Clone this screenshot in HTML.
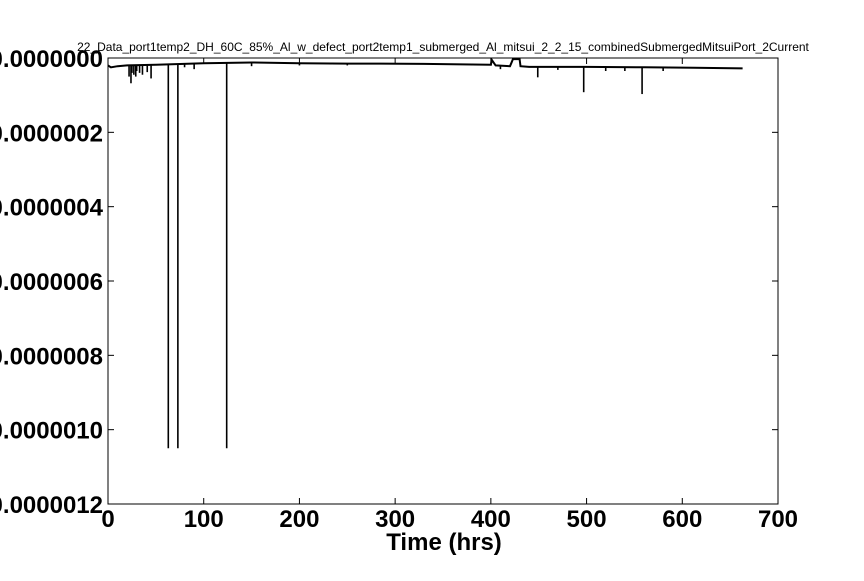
<!DOCTYPE html>
<html><head><meta charset="utf-8"><style>
body{margin:0;background:#fff;width:864px;height:576px;overflow:hidden}
svg text{font-family:"Liberation Sans",sans-serif}
</style></head><body>
<svg id="c" width="864" height="576"></svg>
<script>
const xTicks=[0,100,200,300,400,500,600,700];
const yTicks=[0,-2e-7,-4e-7,-6e-7,-8e-7,-10e-7,-12e-7];
const yTickLabels=["0.0000000","0.0000002","0.0000004","0.0000006","0.0000008","0.0000010","0.0000012"];
const baseT=[0,3,10,20,50,100,150,200,250,275,330,400,401,405,420,422,423,430,431,440,500,560,612,663];
const baseV=[-0.02e-6,-0.025e-6,-0.022e-6,-0.02e-6,-0.018e-6,-0.014e-6,-0.012e-6,-0.014e-6,-0.015e-6,-0.015e-6,-0.016e-6,-0.018e-6,-0.005e-6,-0.02e-6,-0.022e-6,-0.01e-6,-0.003e-6,-0.003e-6,-0.022e-6,-0.024e-6,-0.024e-6,-0.025e-6,-0.026e-6,-0.028e-6];
const spikeT=[63,73,124,22,24,25,27,29,30,33,36,41,45,80,90,150,200,250,410,449,470,497,520,540,558,580];
const spikeV=[-1.05e-6,-1.05e-6,-1.05e-6,-0.05e-6,-0.068e-6,-0.04e-6,-0.045e-6,-0.05e-6,-0.035e-6,-0.04e-6,-0.045e-6,-0.038e-6,-0.055e-6,-0.025e-6,-0.03e-6,-0.022e-6,-0.02e-6,-0.02e-6,-0.03e-6,-0.052e-6,-0.032e-6,-0.092e-6,-0.035e-6,-0.035e-6,-0.097e-6,-0.035e-6];
const L=108,R=778,T=58,B=504;
const sx=t=>L+(t-0)/700*(R-L);
const sy=v=>T+(0-v)/1.2e-6*(B-T);
const svg=document.getElementById('c');const NS='http://www.w3.org/2000/svg';
function mk(tag,attrs,parent){const e=document.createElementNS(NS,tag);for(const k in attrs)e.setAttribute(k,attrs[k]);(parent||svg).appendChild(e);return e;}
const title=mk('text',{x:443,y:51,'text-anchor':'middle','font-size':'12'});


title.textContent='22_Data_port1temp2_DH_60C_85%_Al_w_defect_port2temp1_submerged_Al_mitsui_2_2_15_combinedSubmergedMitsuiPort_2Current';
let d='M'+baseT.map((t,i)=>sx(t).toFixed(1)+','+sy(baseV[i]).toFixed(1)).join('L');
const line=mk('path',{d:d,fill:'none',stroke:'#000','stroke-width':'2'});


function baseAt(t){for(let i=1;i<baseT.length;i++){if(t<=baseT[i]){const f=(t-baseT[i-1])/(baseT[i]-baseT[i-1]);return baseV[i-1]+f*(baseV[i]-baseV[i-1]);}}return baseV[baseV.length-1];}
spikeT.forEach((t,i)=>{
  const s=mk('line',{x1:sx(t),x2:sx(t),y1:sy(baseAt(t)),y2:sy(spikeV[i]),stroke:'#000','stroke-width':'1.6'});
  
  
});
const frame=mk('rect',{x:L,y:T,width:R-L,height:B-T,fill:'none',stroke:'#000','stroke-width':'1'});


xTicks.forEach(t=>{
  const x=sx(t);
  mk('line',{x1:x,x2:x,y1:B,y2:B-6,stroke:'#000'});
  mk('line',{x1:x,x2:x,y1:T,y2:T+6,stroke:'#000'});
  const tx=mk('text',{x:x,y:B+23,'text-anchor':'middle','font-size':'24','font-weight':'bold'});
  
  
  tx.textContent=t;
});
yTicks.forEach((v,i)=>{
  const y=sy(v);
  mk('line',{x1:L,x2:L+6,y1:y,y2:y,stroke:'#000'});
  mk('line',{x1:R,x2:R-6,y1:y,y2:y,stroke:'#000'});
  const tx=mk('text',{x:L-5,y:y+9,'text-anchor':'end','font-size':'24','font-weight':'bold'});
  
  
  tx.textContent=yTickLabels[i];
});
const xl=mk('text',{x:444,y:550,'text-anchor':'middle','font-size':'24','font-weight':'bold'});


xl.textContent='Time (hrs)';
</script>
</body></html>
